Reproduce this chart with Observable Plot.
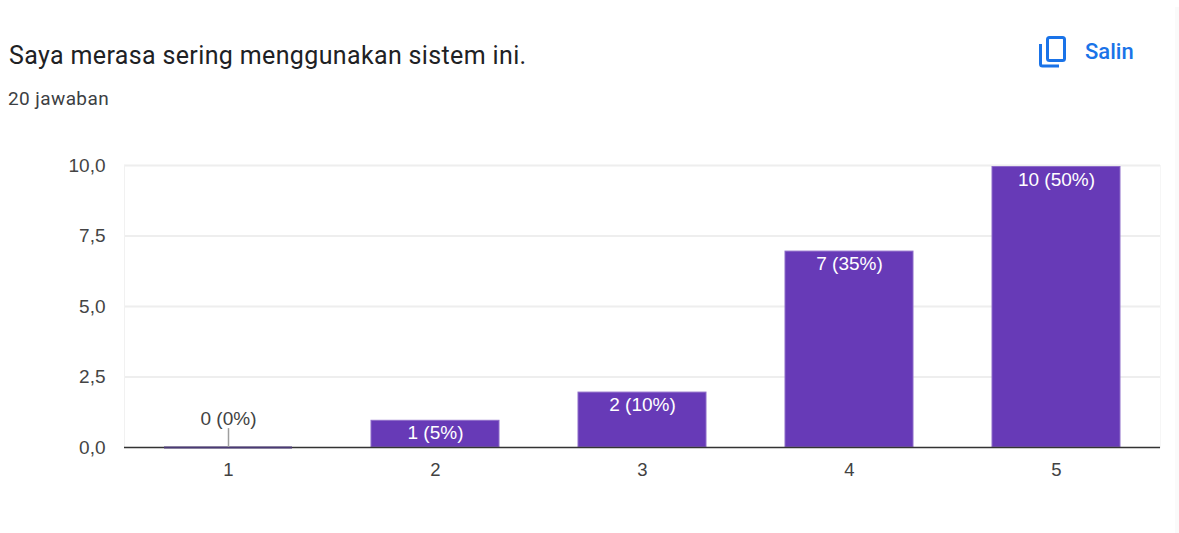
<!DOCTYPE html>
<html><head><meta charset="utf-8">
<style>
html,body{margin:0;padding:0;background:#fff;width:1179px;height:533px;overflow:hidden}
#strip{position:absolute;left:1175px;top:7px;width:4px;height:526px;background:#fafafa;clip-path:polygon(0 4px,0 100%,100% 100%,100% 0,0 0)}
#title{position:absolute;left:9px;top:41px;font:400 25px/30px Roboto,sans-serif;letter-spacing:.36px;color:#202124;white-space:nowrap}
#sub{position:absolute;left:8px;top:89px;font:400 19px/20px Roboto,sans-serif;letter-spacing:.4px;color:#3c4043;white-space:nowrap}
#copy{position:absolute;left:1036px;top:34px;width:36px;height:36px}
#salin{position:absolute;left:1085px;top:39px;font:500 22px/26px Roboto,sans-serif;color:#1a73e8;white-space:nowrap}
#chart{position:absolute;left:0;top:140px}
#chart svg{display:block;background:transparent}
</style>
<script src="https://cdn.jsdelivr.net/npm/d3@7"></script>
<script src="https://cdn.jsdelivr.net/npm/@observablehq/plot@0.6"></script>
</head><body>
<div id="strip"></div>
<div id="title">Saya merasa sering menggunakan sistem ini.</div>
<div id="sub">20 jawaban</div>
<svg id="copy" viewBox="0 0 36 36" fill="none" stroke="#1a73e8" stroke-width="3"><path d="M4.5 10v20a2 2 0 0 0 2 2H23"/><rect x="11.5" y="3.5" width="17" height="23" rx="2"/></svg>
<div id="salin">Salin</div>
<div id="chart"></div>
<script>
const categories = [1, 2, 3, 4, 5];
const counts = [0, 1, 2, 7, 10];
const labels = ["0 (0%)", "1 (5%)", "2 (10%)", "7 (35%)", "10 (50%)"];
const yTicks = [0, 2.5, 5, 7.5, 10];
const leaderTop = [0.67];

const rows = categories.map((c, i) => ({c, v: counts[i], label: labels[i]}));
const zeroRows = rows.filter(d => d.v === 0);
const barRows = rows.filter(d => d.v > 0);
const comma = d => d.toFixed(1).replace(".", ",");

const plot = Plot.plot({
  width: 1179,
  height: 393,
  marginLeft: 124,
  marginRight: 19,
  marginTop: 25,
  marginBottom: 86,
  style: {fontFamily: "'Liberation Sans', Arial, sans-serif", fontSize: "19px", background: "transparent", overflow: "visible"},
  x: {type: "band", domain: categories, paddingInner: 0.382, paddingOuter: 0.191, align: 0.5, label: null},
  y: {domain: [0, 10], range: [307, 25], label: null},
  marks: [
    Plot.ruleY(yTicks.slice(1), {stroke: "#eeeeee", strokeWidth: 2}),
    Plot.frame({anchor: "left", stroke: "#f1f1f1", strokeWidth: 1}),
    Plot.frame({anchor: "right", stroke: "#f6f6f6", strokeWidth: 1}),
    Plot.barY(barRows, {x: "c", y: "v", insetTop: 1.5, fill: "#673ab7", stroke: "#8e6cc9", strokeWidth: 1}),
    Plot.ruleY([0], {stroke: "#333333", strokeWidth: 1.5}),
    Plot.tickY(zeroRows, {x: "c", y: "v", stroke: "#4a3a75", strokeWidth: 2}),
    Plot.ruleX(zeroRows, {x: "c", y1: 0, y2: () => leaderTop[0], stroke: "#9e9e9e", strokeWidth: 1.5}),
    Plot.text(zeroRows, {x: "c", y: () => leaderTop[0], text: "label", dy: -10, fill: "#424242", fontSize: 19}),
    Plot.text(barRows, {x: "c", y: "v", text: "label", dy: 14, fill: "#ffffff", fontSize: 19}),
    Plot.axisY({ticks: yTicks, tickFormat: comma, tickSize: 0, tickPadding: 19, fill: "#444444", fontSize: 19, label: null}),
    Plot.axisX({tickSize: 0, tickPadding: 15, fill: "#424242", fontSize: 18.5, label: null})
  ]
});
document.getElementById("chart").append(plot);
</script>
</body></html>
